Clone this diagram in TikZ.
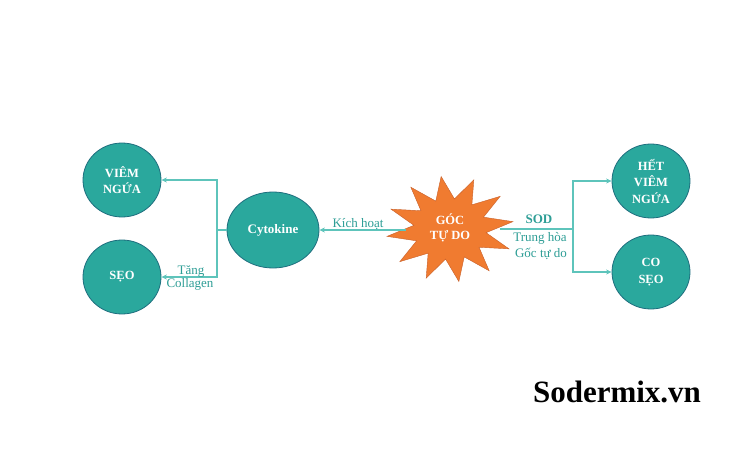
\documentclass[tikz,border=0pt]{standalone}
\usepackage{fontspec}
\setmainfont{Liberation Serif}
\usetikzlibrary{shapes.geometric,arrows.meta}
\definecolor{tealfill}{HTML}{2AA89D}
\definecolor{tealedge}{HTML}{1E6E7E}
\definecolor{tealline}{HTML}{5EC4BB}
\definecolor{teattext}{HTML}{2E9E96}
\definecolor{starfill}{HTML}{F07B30}
\definecolor{staredge}{HTML}{C8602A}
\tikzset{
  bubble/.style={ellipse, draw=tealedge, line width=0.8pt, fill=tealfill,
    minimum width=78pt, minimum height=74pt, inner sep=0pt,
    text=white, font=\fontsize{12.5}{16.5}\selectfont\bfseries, align=center},
  conn/.style={draw=tealline, line width=1.1pt},
  arr/.style={conn, -{Stealth[length=5.5pt,width=5pt]}},
  lbl/.style={text=teattext, font=\fontsize{13}{15}\selectfont, align=center, inner sep=0pt},
  burst/.style={star, star points=12, star point ratio=1.75, fill=starfill, draw=staredge,
    line width=0.4pt, minimum size=106pt, inner sep=0pt}
}
\begin{document}
\begin{tikzpicture}[x=1pt,y=-1pt]
\useasboundingbox[fill=white] (0,0) rectangle (750,450);
% nodes
\node[bubble] (viem) at (122,180) {VIÊM\\NGỨA};
\node[bubble] (seo) at (122,277) {SẸO};
\node[bubble, minimum width=92pt, minimum height=76pt, font=\fontsize{13}{16}\selectfont\bfseries] (cyto) at (273,230) {Cytokine};
\node[burst, xscale=1.2, rotate=8] (star) at (450,229) {};
\node[text=white, font=\fontsize{12.5}{15.5}\selectfont\bfseries, align=center] (goc) at (450,228) {GÓC\\TỰ DO};
\node[bubble, font=\fontsize{12.5}{16.5}\selectfont\bfseries] (het) at (651,181) {HẾT\\VIÊM\\NGỨA};
\node[bubble] (co) at (651,272) {CO\\SẸO};
% junction coordinates
\coordinate (jl) at (217,230);
\coordinate (sl) at (406,230);
\coordinate (sr) at (500,229);
\coordinate (jr) at (573,229);
% left connectors
\draw[conn] (cyto.west) -- (jl);
\draw[arr] (jl) |- (viem.east);
\draw[arr] (jl) |- (seo.east);
\draw[arr] (sl) -- (cyto.east);
% right connectors
\draw[conn] (sr) -- (jr);
\draw[arr] (jr) |- (het.west);
\draw[arr] (jr) |- (co.west);
% labels
\node[lbl] (tang) at (191,271) {Tăng};
\node[lbl] (coll) at (190,284) {Collagen};
\node[lbl] (kich) at (358,224) {Kích hoạt};
\node[lbl, font=\fontsize{13}{15}\selectfont\bfseries] (sod) at (539,219) {SOD};
\node[lbl] (trung) at (540,238) {Trung hòa};
\node[lbl] (gtd) at (541,254) {Gốc tự do};
\node[font=\fontsize{31}{34}\selectfont\bfseries, inner sep=0pt] (brand) at (617,392) {Sodermix.vn};
\end{tikzpicture}
\end{document}
